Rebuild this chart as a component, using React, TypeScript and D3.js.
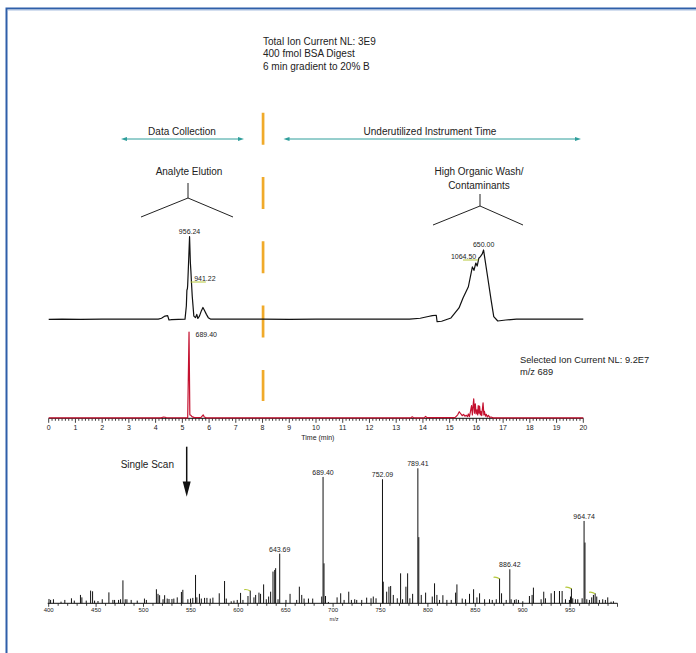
import React from "react";
import * as d3 from "d3";

// ---------- data ----------
const ticTrace: [number, number][] = [
  [0, 4.3], [0.5, 4.6], [1.2, 4.2], [2, 4.5], [2.8, 4.4], [3.5, 4.6], [4.1, 4.5],
  [4.22, 5.5], [4.35, 8], [4.45, 8.5], [4.5, 3.5], [4.6, 4], [5.1, 4.5], [5.15, 20],
  [5.17, 38], [5.19, 40], [5.2, 44], [5.22, 60], [5.27, 100], [5.3, 70], [5.32, 60],
  [5.34, 47.5], [5.37, 31], [5.43, 8], [5.49, 6.2], [5.54, 10], [5.58, 5.2], [5.64, 8],
  [5.71, 14], [5.77, 18], [5.82, 15], [5.9, 10], [5.97, 6.2], [6.05, 4.5], [7, 4.4],
  [8, 4.6], [9, 4.3], [10, 4.5], [11, 4.4], [12, 4.6], [13, 4.5], [13.5, 4.5],
  [13.9, 5.5], [14.2, 7.5], [14.35, 8.5], [14.5, 9], [14.53, 1.5], [14.7, 2],
  [15.05, 5.8], [15.35, 17.4], [15.5, 29], [15.7, 42], [15.85, 65], [15.91, 61],
  [15.98, 69.5], [16.03, 66], [16.09, 75], [16.15, 77], [16.22, 80], [16.27, 84.6],
  [16.3, 78], [16.42, 53.6], [16.55, 26.7], [16.65, 7.3], [16.8, 2.3], [17.1, 3.5],
  [17.5, 4.5], [18.5, 4.4], [20, 4.5],
];

const sicTrace: [number, number][] = [
  [0, 0.5], [4.2, 0.5], [4.3, 1.5], [4.4, 0.8], [5.2, 0.5], [5.25, 100], [5.28, 4],
  [5.32, 3.5], [5.36, 2], [5.45, 0.8], [5.7, 1], [5.78, 4], [5.82, 1.5], [5.9, 0.5],
  [13.55, 0.5], [13.6, 1.8], [13.66, 0.5], [14.05, 0.5], [14.1, 2.2], [14.15, 0.8],
  [15.2, 0.8], [15.3, 4], [15.36, 7.6], [15.42, 5], [15.47, 3], [15.52, 4.6],
  [15.57, 2.5], [15.62, 3.5], [15.67, 2], [15.7, 5], [15.74, 2], [15.78, 8],
  [15.82, 14.8], [15.85, 4], [15.9, 22.6], [15.93, 6], [15.96, 16.8], [15.99, 5],
  [16.02, 9.8], [16.05, 4], [16.07, 14.8], [16.1, 6], [16.12, 14], [16.15, 4],
  [16.17, 8], [16.2, 3], [16.25, 18], [16.28, 4], [16.3, 8], [16.34, 2.5],
  [16.37, 4.6], [16.41, 1.5], [16.45, 3.5], [16.5, 1], [16.55, 1.5], [16.62, 0.5],
  [20, 0.5],
];

const ticLabels: { t: number; v: number; text: string }[] = [
  { t: 5.27, v: 100, text: "956.24" },
  { t: 16.27, v: 84.6, text: "650.00" },
];
const ticSideLabels: { t0: number; t1: number; v: number; text: string; side: string }[] = [
  { t0: 5.31, t1: 5.88, v: 47.5, text: "941.22", side: "start" },
  { t0: 15.5, t1: 16.07, v: 73, text: "1064.50", side: "end" },
];
const sicLabel = { t: 5.25, v: 100, text: "689.40" };

const msMz = [
  400.3, 402, 405, 413, 417, 424, 427, 433.5, 435, 439.6, 444.2, 446.3, 448.4, 452,
  456.5, 463.5, 467.7, 469.5, 473.7, 475.8, 478.3, 480.7, 482.5, 487, 493.4, 501, 503,
  513.6, 515.3, 517, 520.6, 522.3, 525, 526.9, 530, 532, 535.6, 540, 541.5, 546.8,
  549.6, 552, 554.9, 556.3, 559, 561, 564.4, 566.9, 570.4, 573.2, 579.9, 585.5, 587.3,
  592.5, 595.4, 598.9, 602.4, 604.9, 610.2, 612.6, 616.5, 618.3, 621.8, 623.5, 626.7,
  629.5, 632, 634.1, 636.6, 638.4, 639.4, 641.9, 643.69, 650.3, 654.6, 661.6, 664.4,
  666.9, 669.4, 674, 678.5, 688, 689.4, 690.4, 692, 695, 704.2, 708, 711.6, 716.5,
  719.3, 722.8, 724.9, 730.2, 735.4, 740, 742.4, 745.3, 752.09, 752.9, 756.5, 758.9,
  760.7, 763.5, 767.7, 771.2, 773.3, 776.8, 778.6, 781, 783.9, 789.41, 790.4, 793,
  797.6, 804.6, 807, 809.5, 812.3, 815.8, 820, 824.6, 829.2, 830.6, 836.2, 839.7,
  843.9, 848.2, 851.7, 854.5, 859.8, 865, 867.9, 872.1, 875.6, 877.7, 882.6, 886.42,
  887.8, 891.3, 893.1, 895.5, 900.1, 907.1, 909.9, 911.3, 919.4, 922.2, 924, 930,
  933.5, 938.8, 941.6, 945.1, 949.3, 950.4, 951.4, 952.8, 955.6, 958.1, 962.7, 964.74,
  965.7, 967.6, 970.4, 972.8, 974.6, 976.4, 978.1, 980.9, 984.4, 987.2, 989.7, 993.2,
  995.7,
];
const msInt = [
  3.2, 2.5, 3, 1.2, 2.5, 3.7, 2, 6.2, 4.4, 2, 9.4, 8.9, 2, 1.7,
  3, 8.1, 2.5, 2.5, 2.5, 3, 17, 3, 3, 2.5, 2, 3.5, 2.5,
  10.4, 7, 6, 3, 6, 3.5, 3.2, 3.2, 3.5, 4.4, 8.4, 10, 3,
  3.5, 4, 21, 4.4, 7, 3.5, 4, 4, 3.5, 4.2, 7.4, 16.5, 3.5,
  1.5, 2, 2.5, 7.7, 2.5, 5.4, 9.4, 4.4, 6.2, 7.9, 7, 14,
  3, 5, 8.6, 23.5, 24.7, 26, 3, 36.8, 2.5, 7, 2.5, 12.3,
  6.2, 3.5, 3.5, 3.5, 5, 93.6, 29.6, 5.4, 1, 4.4, 7.4, 2.5, 8.6,
  2.5, 3, 2.5, 2.5, 4.2, 3.7, 5, 3.7, 91.9, 16, 8.6, 12.3,
  12.8, 6.2, 3.7, 22.2, 3, 12.3, 22.2, 3.7, 7, 100, 49, 6.2,
  7.9, 5, 14.8, 6.2, 2.5, 6, 2.5, 2.5, 7.9, 14, 3.5, 3,
  7, 10.4, 4.4, 7.4, 3, 3, 2.5, 3, 18.5, 7.4, 2.5, 25.2,
  3, 2.5, 3, 2.5, 1.5, 5.4, 6.2, 11.6, 3, 8.6, 3.7, 7.4,
  9.1, 9.1, 9.1, 3, 2.5, 5, 11.1, 3.7, 3, 3, 3.7, 61,
  45, 3, 2.5, 4.4, 6.2, 7.4, 5, 2.5, 3, 2.5, 4.4, 1.2,
  1.5,
];
const msLabelMz = [643.69, 689.4, 752.09, 789.41, 886.42, 964.74];
const msLabelText = ["643.69", "689.40", "752.09", "789.41", "886.42", "964.74"];
const msMarkerMz = [612.6, 875.6, 951.4, 976.4];

const timeLabels = d3.range(0, 21);
const mzLabels = d3.range(400, 951, 50);

const titleLines = ["Total Ion Current NL: 3E9", "400 fmol BSA Digest", "6 min gradient to 20% B"];
const sicLines = ["Selected Ion Current NL: 9.2E7", "m/z 689"];

// ---------- scales ----------
const xTime = d3.scaleLinear().domain([0, 20]).range([48.7, 583.3]);
const yTic = d3.scaleLinear().domain([0, 100]).range([323, 236.7]);
const ySic = d3.scaleLinear().domain([0, 100]).range([418.3, 332]);
const xMz = d3.scaleLinear().domain([400, 1000]).range([48.7, 617.5]);
const yMs = d3.scaleLinear().domain([0, 100]).range([603.3, 468.3]);

const FONT = "'Liberation Sans', Arial, Helvetica, sans-serif";
const TEAL = "#2e9e9b";
const ORANGE = "#f0aa2a";
const RED = "#c41230";
const GREEN = "#b5c83a";
const INK = "#222";

function Arrow({ x1, x2, y }: { x1: number; x2: number; y: number }) {
  return (
    <g>
      <line x1={x1 + 4} x2={x2 - 4} y1={y} y2={y} stroke={TEAL} strokeWidth={1} />
      <path d={`M${x1},${y} L${x1 + 6},${y - 2} L${x1 + 6},${y + 2} Z`} fill={TEAL} />
      <path d={`M${x2},${y} L${x2 - 6},${y - 2} L${x2 - 6},${y + 2} Z`} fill={TEAL} />
    </g>
  );
}

export default function App() {
  const ticLine = d3.line<[number, number]>().x((d) => xTime(d[0])).y((d) => yTic(d[1]))(ticTrace) || "";
  const sicLine = d3.line<[number, number]>().x((d) => xTime(d[0])).y((d) => ySic(d[1]))(sicTrace) || "";
  const timeTicks = d3.range(0, 20 + 1e-9, 0.125);
  const mzTicks = d3.range(400, 1001, 10);
  const msIndex = (mz: number) => msMz.findIndex((m) => Math.abs(m - mz) < 0.01);

  return (
    <svg
      width={696}
      height={653}
      style={{ position: "absolute", left: 0, top: 0, background: "#fff" }}
      fontFamily={FONT}
    >
      <rect x={0} y={0} width={696} height={653} fill="#fff" />
      {/* frame */}
      <path d="M6.5,653 V8.5 H696" fill="none" stroke="#2f5fa9" strokeWidth={2} />
      <line x1={7.5} x2={696} y1={10} y2={10} stroke="#a8bedf" strokeWidth={1} />

      {/* title */}
      {titleLines.map((s, i) => (
        <text key={s} x={263} y={44.5 + i * 12.5} fontSize={10} fill={INK}>
          {s}
        </text>
      ))}

      {/* arrows */}
      <text x={182} y={134.5} fontSize={10} textAnchor="middle" fill={INK}>Data Collection</text>
      <Arrow x1={121} x2={244} y={139} />
      <text x={430} y={134.5} fontSize={10} textAnchor="middle" fill={INK}>Underutilized Instrument Time</text>
      <Arrow x1={283.5} x2={581} y={139} />

      {/* brackets */}
      <text x={189} y={175} fontSize={10} textAnchor="middle" fill={INK}>Analyte Elution</text>
      <path d="M188,183 V198 M141,217 L188,198 L233,217" fill="none" stroke={INK} strokeWidth={1} />
      <text x={479} y={175} fontSize={10} textAnchor="middle" fill={INK}>High Organic Wash/</text>
      <text x={479} y={188.5} fontSize={10} textAnchor="middle" fill={INK}>Contaminants</text>
      <path d="M480,194 V206 M433,225 L480,206 L523,225" fill="none" stroke={INK} strokeWidth={1} />

      {/* dashed orange divider */}
      <line
        x1={xTime(8.02)}
        x2={xTime(8.02)}
        y1={112.7}
        y2={401}
        stroke={ORANGE}
        strokeWidth={2.7}
        strokeDasharray="32 32.3"
      />

      {/* TIC */}
      <path d={ticLine} fill="none" stroke="#111" strokeWidth={1.2} strokeLinejoin="round" />
      {ticLabels.map((l) => (
        <text key={l.text} x={xTime(l.t)} y={yTic(l.v) - 3} fontSize={7} textAnchor="middle" fill={INK}>
          {l.text}
        </text>
      ))}
      {ticSideLabels.map((l) => (
        <g key={l.text}>
          <line x1={xTime(l.t0)} x2={xTime(l.t1)} y1={yTic(l.v)} y2={yTic(l.v)} stroke={GREEN} strokeWidth={1} />
          <text
            x={l.side === "start" ? xTime(l.t0) + 3.5 : xTime(l.t1) - 2}
            y={yTic(l.v) - 1.5}
            fontSize={7}
            textAnchor={l.side}
            fill={INK}
          >
            {l.text}
          </text>
        </g>
      ))}

      {/* SIC text */}
      {sicLines.map((s, i) => (
        <text key={s} x={520} y={363 + i * 11.5} fontSize={9.3} fill={INK}>
          {s}
        </text>
      ))}

      {/* time axis */}
      <line x1={xTime(0)} x2={xTime(20)} y1={418.3} y2={418.3} stroke="#111" strokeWidth={1} />
      {timeTicks.map((t) => {
        const major = Math.abs(t - Math.round(t)) < 1e-6;
        return (
          <line
            key={t}
            x1={xTime(t)}
            x2={xTime(t)}
            y1={418.3}
            y2={418.3 + (major ? 4.5 : 2.5)}
            stroke="#111"
            strokeWidth={0.8}
          />
        );
      })}
      {timeLabels.map((t) => (
        <text key={t} x={xTime(t)} y={429.5} fontSize={7} textAnchor="middle" fill={INK}>
          {t}
        </text>
      ))}
      <text x={xTime(10.07)} y={439.5} fontSize={7} textAnchor="middle" fill={INK}>Time (min)</text>

      {/* SIC trace */}
      <path d={sicLine} fill="none" stroke={RED} strokeWidth={1.2} strokeLinejoin="round" />
      <text x={xTime(sicLabel.t) + 6.5} y={ySic(sicLabel.v) + 4.8} fontSize={7} fill={INK}>
        {sicLabel.text}
      </text>

      {/* single scan */}
      <text x={174} y={467.5} fontSize={10} textAnchor="end" fill={INK}>Single Scan</text>
      <line x1={186.7} x2={186.7} y1={446.7} y2={484} stroke="#111" strokeWidth={1.5} />
      <path d="M182.7,481.5 L190.7,481.5 L186.7,496.7 Z" fill="#111" />

      {/* mass spectrum */}
      {msMz.map((mz, i) => (
        <line
          key={i}
          x1={xMz(mz)}
          x2={xMz(mz)}
          y1={yMs(0)}
          y2={yMs(msInt[i])}
          stroke="#111"
          strokeWidth={1}
        />
      ))}
      {msMarkerMz.map((mz) => {
        const i = msIndex(mz);
        const x = xMz(mz);
        const y = yMs(msInt[i]);
        return (
          <path key={mz} d={`M${x - 6},${y - 1} Q${x - 3},${y - 1.5} ${x},${y + 0.5}`} fill="none" stroke={GREEN} strokeWidth={1.2} />
        );
      })}
      {msLabelMz.map((mz, k) => {
        const i = msIndex(mz);
        return (
          <text key={mz} x={xMz(mz)} y={yMs(msInt[i]) - 2} fontSize={7} textAnchor="middle" fill={INK}>
            {msLabelText[k]}
          </text>
        );
      })}
      <line x1={xMz(400) - 1} x2={xMz(1000)} y1={yMs(0)} y2={yMs(0)} stroke="#111" strokeWidth={1} />
      {mzTicks.map((m) => (
        <line
          key={m}
          x1={xMz(m)}
          x2={xMz(m)}
          y1={yMs(0)}
          y2={yMs(0) + (m % 50 === 0 ? 3.5 : 2.5)}
          stroke="#111"
          strokeWidth={0.8}
        />
      ))}
      {mzLabels.map((m) => (
        <text key={m} x={xMz(m)} y={612} fontSize={6} textAnchor="middle" fill={INK}>
          {m}
        </text>
      ))}
      <text x={334} y={620.5} fontSize={5.5} textAnchor="middle" fill={INK}>m/z</text>
    </svg>
  );
}
